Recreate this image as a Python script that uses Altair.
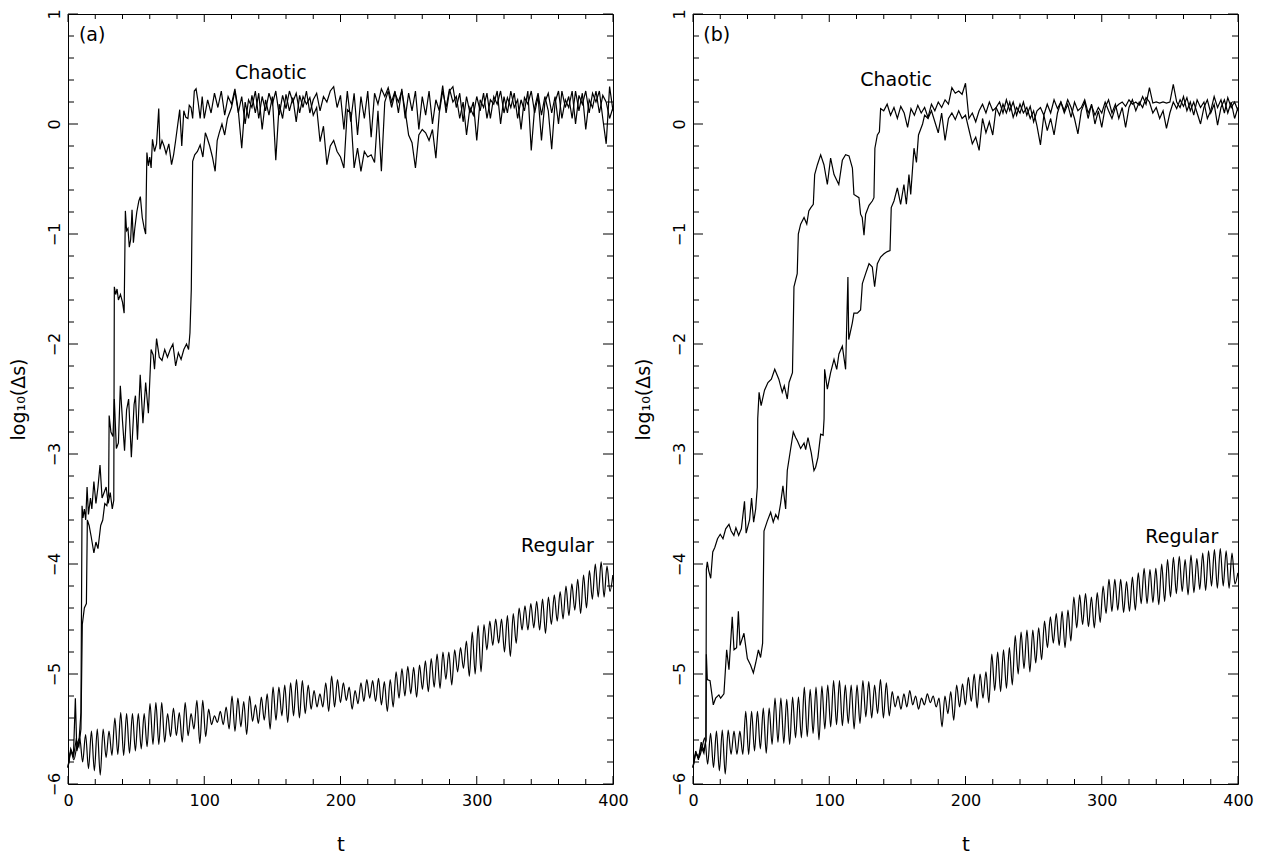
import altair as alt
import pandas as pd

FONT = "DejaVu Sans"
W, H = 545, 770

# ---------------- data ----------------
REG_STEP = 2.15     # spacing of the sampled extrema of the regular curves
BAND_STEP = 2.5     # spacing of the samples in the saturated chaotic band

reg_a = [-5.85, -5.70, -5.78, -5.66, -5.58, -5.80, -5.55, -5.86, -5.52, -5.88,
         -5.50, -5.92, -5.50, -5.76, -5.52, -5.74, -5.40, -5.73, -5.35, -5.74,
         -5.36, -5.72, -5.36, -5.70, -5.36, -5.68, -5.36, -5.66, -5.27, -5.64,
         -5.26, -5.64, -5.26, -5.62, -5.36, -5.57, -5.31, -5.56, -5.35, -5.62,
         -5.26, -5.56, -5.36, -5.50, -5.24, -5.63, -5.24, -5.57, -5.32, -5.46,
         -5.38, -5.44, -5.34, -5.46, -5.30, -5.50, -5.20, -5.52, -5.22, -5.48,
         -5.25, -5.55, -5.20, -5.43, -5.28, -5.45, -5.21, -5.42, -5.18, -5.50,
         -5.12, -5.42, -5.12, -5.38, -5.10, -5.44, -5.08, -5.38, -5.05, -5.40,
         -5.06, -5.36, -5.10, -5.32, -5.15, -5.30, -5.18, -5.30, -5.08, -5.34,
         -5.02, -5.30, -5.05, -5.26, -5.08, -5.24, -5.12, -5.32, -5.15, -5.27,
         -5.08, -5.25, -5.05, -5.22, -5.06, -5.25, -5.04, -5.28, -5.07, -5.34,
         -5.05, -5.30, -4.98, -5.22, -4.95, -5.20, -4.93, -5.18, -4.94, -5.21,
         -4.92, -5.14, -4.88, -5.16, -4.86, -5.12, -4.82, -5.13, -4.80, -5.05,
         -4.80, -5.10, -4.78, -4.98, -4.76, -4.95, -4.70, -5.02, -4.62, -5.00,
         -4.56, -4.98, -4.55, -4.78, -4.52, -4.74, -4.50, -4.72, -4.50, -4.80,
         -4.47, -4.84, -4.45, -4.72, -4.40, -4.60, -4.38, -4.60, -4.36, -4.58,
         -4.34, -4.60, -4.32, -4.63, -4.30, -4.55, -4.28, -4.52, -4.25, -4.50,
         -4.20, -4.47, -4.18, -4.42, -4.14, -4.45, -4.10, -4.40, -4.06, -4.32,
         -4.00, -4.30, -3.98, -4.30, -4.02, -4.25, -4.10]

reg_b = [-5.85, -5.72, -5.76, -5.68, -5.58, -5.82, -5.54, -5.85, -5.52, -5.88,
         -5.51, -5.91, -5.51, -5.73, -5.52, -5.73, -5.52, -5.73, -5.34, -5.73,
         -5.34, -5.70, -5.34, -5.68, -5.31, -5.72, -5.31, -5.64, -5.22, -5.62,
         -5.22, -5.63, -5.23, -5.64, -5.21, -5.58, -5.21, -5.58, -5.12, -5.57,
         -5.14, -5.54, -5.12, -5.60, -5.11, -5.50, -5.10, -5.48, -5.06, -5.46,
         -5.06, -5.47, -5.10, -5.45, -5.10, -5.50, -5.10, -5.45, -5.06, -5.39,
         -5.07, -5.40, -5.10, -5.36, -5.05, -5.40, -5.08, -5.38, -5.16, -5.30,
         -5.20, -5.32, -5.18, -5.30, -5.15, -5.28, -5.20, -5.32, -5.22, -5.28,
         -5.18, -5.26, -5.20, -5.30, -5.22, -5.48, -5.20, -5.36, -5.16, -5.42,
         -5.10, -5.30, -5.09, -5.28, -5.03, -5.25, -5.00, -5.31, -5.00, -5.22,
         -4.98, -5.26, -4.82, -5.15, -4.80, -5.16, -4.78, -5.13, -4.76, -5.10,
         -4.65, -5.00, -4.62, -4.95, -4.60, -4.98, -4.60, -4.90, -4.58, -4.87,
         -4.52, -4.76, -4.48, -4.72, -4.45, -4.74, -4.43, -4.76, -4.42, -4.70,
         -4.30, -4.58, -4.28, -4.55, -4.27, -4.57, -4.30, -4.58, -4.26, -4.53,
         -4.20, -4.45, -4.14, -4.43, -4.14, -4.42, -4.14, -4.44, -4.16, -4.43,
         -4.12, -4.42, -4.08, -4.36, -4.04, -4.36, -4.05, -4.35, -4.04, -4.37,
         -4.00, -4.34, -3.96, -4.30, -3.94, -4.27, -3.93, -4.25, -3.96, -4.28,
         -3.92, -4.26, -3.95, -4.23, -3.90, -4.24, -3.88, -4.20, -3.87, -4.22,
         -3.86, -4.20, -3.88, -4.22, -3.90, -4.18, -4.08]

# panel (a), chaotic orbit 1
a_c1_t = [0, 2, 4, 5.4, 6.5, 8, 9.5, 10.3, 11, 12, 13, 14, 15, 16.5, 17.5, 19, 20.5, 22, 23.5, 25,
          26.5, 28, 29.5, 31, 32.5, 33.6, 34, 35, 36, 37, 38.5, 40, 41.2, 42.1, 43, 44, 45, 46, 47, 48,
          49, 50.5, 52, 53.1, 54.5, 56, 57, 57.9, 59, 60, 61, 62, 63.5, 65, 66.6, 67.5, 69, 70.5, 72, 74,
          76, 77.5, 79, 82, 83.5, 85, 86.5, 88, 89, 90.3, 91.5, 92.7, 94, 95.5, 97, 98.5, 100]
a_c1_y = [-5.85, -5.68, -5.74, -5.22, -5.70, -5.62, -5.35, -3.47, -3.58, -3.50,
          -3.60, -3.30, -3.55, -3.40, -3.50, -3.25, -3.45, -3.30, -3.10, -3.40,
          -3.35, -3.30, -3.45, -3.35, -3.50, -3.42, -1.48, -1.55, -1.50, -1.60,
          -1.55, -1.62, -1.72, -0.79, -0.97, -0.95, -1.12, -1.05, -0.78, -1.08,
          -0.95, -0.80, -0.70, -0.66, -0.85, -0.95, -1.00, -0.26, -0.38, -0.30,
          -0.40, -0.14, -0.25, -0.18, 0.14, -0.23, -0.15, -0.20, -0.27, -0.18,
          -0.37, -0.28, -0.15, 0.13, -0.20, 0.12, 0.06, 0.05, 0.17, 0.15,
          0.05, 0.30, 0.32, 0.20, 0.05, 0.25, 0.05]
a_c1_band_start = 102.5
a_c1_band = [0.22, 0.10, 0.28, 0.15, 0.30, 0.08, 0.25, 0.18, 0.32, 0.12,
             -0.22, 0.20, 0.05, 0.26, 0.10, 0.28, -0.05, 0.22, 0.08, 0.25,
             -0.33, 0.18, 0.05, 0.27, 0.12, 0.24, 0.02, 0.26, 0.15, 0.30,
             0.10, 0.22, 0.28, 0.12, 0.25, 0.20, 0.30, 0.34, 0.15, 0.26,
             -0.05, 0.30, 0.02, 0.28, -0.10, 0.25, 0.05, 0.30, -0.12, 0.28,
             0.18, 0.32, 0.25, 0.33, 0.20, 0.30, 0.10, 0.32, 0.05, 0.28,
             0.12, 0.30, -0.05, 0.25, 0.08, 0.30, 0.00, 0.22, 0.12, 0.35,
             0.10, 0.30, 0.34, 0.15, 0.28, 0.02, 0.25, 0.10, 0.20, -0.15,
             0.22, 0.15, 0.28, 0.05, 0.25, 0.18, 0.30, 0.10, 0.24, 0.15,
             0.28, 0.05, 0.22, 0.12, 0.30, -0.24, 0.15, 0.28, 0.08, 0.25,
             0.12, -0.23, 0.20, 0.30, 0.05, 0.22, 0.15, 0.30, 0.00, 0.26,
             0.18, 0.30, 0.10, 0.28, 0.20, 0.30, 0.05, -0.18, 0.34, 0.12]

# panel (a), chaotic orbit 2
a_c2_t = [0, 2, 4, 6, 8, 9.5, 10.5, 12, 13.5, 14.2, 15.5, 17, 19, 20.5, 22, 24, 25.5, 27, 28.5, 29.8,
          30.2, 31.5, 33, 34, 35.5, 37, 38.4, 40, 41.5, 43, 44.5, 46.5, 48.5, 49.5, 51, 53, 55, 57, 59, 61,
          62.5, 63.5, 65, 67, 69, 71, 73, 75, 77, 79, 81, 83, 85, 87, 88.5, 89.5, 90.5, 91, 91.5, 93,
          95, 97, 99, 100.8, 102, 104, 106, 108, 109.5, 111, 113, 115, 117]
a_c2_y = [-5.85, -5.70, -5.75, -5.60, -5.66, -5.50, -4.55, -4.40, -4.36, -3.60,
          -3.65, -3.75, -3.90, -3.80, -3.86, -3.65, -3.60, -3.45, -3.47, -3.36,
          -2.65, -2.80, -2.84, -2.50, -2.95, -2.90, -2.38, -2.70, -2.97, -2.60,
          -2.50, -3.03, -2.55, -2.47, -2.87, -2.28, -2.72, -2.35, -2.63, -2.05,
          -2.10, -2.23, -1.95, -2.12, -2.15, -2.05, -2.12, -2.05, -2.00, -2.20,
          -2.08, -2.14, -2.05, -2.00, -2.05, -1.90, -1.50, -0.90, -0.34, -0.28,
          -0.25, -0.19, -0.30, -0.08, -0.12, -0.20, -0.30, -0.43, -0.15, -0.08,
          0.00, -0.10, 0.05]
a_c2_band_start = 120.0
a_c2_band = [0.15, 0.30, 0.10, 0.25, 0.00, 0.22, 0.15, 0.30, 0.05, 0.25,
             0.12, 0.28, 0.18, 0.30, 0.08, 0.26, 0.14, 0.30, 0.20, 0.28,
             0.10, 0.25, 0.18, 0.24, 0.08, 0.15, -0.16, -0.02, -0.37, -0.20,
             -0.15, -0.25, -0.30, -0.40, 0.13, 0.10, -0.40, -0.22, -0.43, -0.25,
             -0.30, -0.28, -0.35, 0.12, -0.43, 0.20, 0.30, 0.15, 0.28, 0.20,
             0.30, 0.12, -0.10, -0.17, -0.40, -0.10, -0.05, -0.08, -0.15, -0.05,
             -0.31, 0.10, 0.30, 0.15, 0.32, 0.20, 0.25, 0.05, 0.20, -0.10,
             0.15, 0.08, 0.25, 0.12, 0.28, 0.05, 0.22, 0.18, 0.30, 0.00,
             0.25, 0.10, 0.30, 0.15, 0.22, -0.05, 0.24, 0.18, 0.30, 0.10,
             0.25, -0.15, 0.20, 0.28, 0.10, 0.25, 0.00, 0.30, 0.15, 0.25,
             0.05, 0.30, 0.12, 0.28, -0.05, 0.22, 0.15, 0.30, 0.10, 0.26,
             0.20, 0.05, 0.15]

# panel (b), chaotic orbit 1
b_c1_t = [0, 2, 4, 6, 8, 9.5, 9.8, 10.5, 11.5, 13, 14.5, 16, 18, 20, 22, 24, 26.4, 28, 30, 31.5,
          33.5, 35.5, 37.8, 39, 41.5, 43, 44.5, 46, 47.2, 47.5, 48.5, 50, 52.5, 55, 57.5, 60, 63, 65.5, 67, 69.2,
          70.5, 73, 74.1, 76.5, 77.3, 79, 81.5, 83.5, 85, 86.5, 88.3, 89.3, 91.3, 93.7, 96.1, 98.6, 101, 103.5, 107, 109.6,
          112, 114.5, 117, 118.1, 121.8, 123, 124.2, 125.5, 126.7, 129.2, 131.6, 132.8, 133.5, 135.3, 136.8, 137.7]
b_c1_y = [-5.85, -5.70, -5.78, -5.62, -5.70, -5.60, -4.05, -3.98, -4.06, -4.13,
          -3.89, -3.85, -3.77, -3.73, -3.77, -3.68, -3.64, -3.70, -3.74, -3.67,
          -3.74, -3.68, -3.43, -3.72, -3.60, -3.40, -3.62, -3.50, -3.30, -2.68,
          -2.44, -2.56, -2.42, -2.35, -2.32, -2.23, -2.32, -2.44, -2.38, -2.50,
          -2.35, -2.26, -1.48, -1.36, -1.00, -0.91, -0.85, -0.91, -0.79, -0.76,
          -0.73, -0.46, -0.37, -0.28, -0.37, -0.55, -0.31, -0.46, -0.55, -0.33,
          -0.28, -0.29, -0.40, -0.64, -0.67, -0.82, -0.85, -1.01, -0.82, -0.74,
          -0.70, -0.67, -0.22, -0.10, -0.07, 0.14]
b_c1_band_start = 140.0
b_c1_band = [0.12, 0.18, 0.08, 0.15, 0.05, 0.16, 0.10, -0.03, 0.14, 0.08,
             0.17, 0.10, 0.15, 0.06, 0.18, 0.12, 0.20, 0.15, 0.22, 0.18,
             0.33, 0.28, 0.30, 0.27, 0.37, 0.05, 0.10, 0.02, 0.12, 0.18,
             0.10, 0.20, 0.12, 0.15, 0.08, 0.18, 0.10, 0.20, 0.06, 0.15,
             0.10, 0.20, 0.08, 0.16, 0.02, 0.12, 0.15, 0.08, 0.18, 0.10,
             0.22, 0.14, 0.20, 0.10, 0.18, 0.06, 0.20, 0.12, 0.15, 0.22,
             0.10, 0.17, 0.08, 0.15, 0.10, 0.20, 0.12, 0.05, 0.15, 0.18,
             0.20, 0.16, 0.22, 0.18, 0.20, 0.17, 0.25, 0.18, 0.33, 0.19,
             0.20, 0.19, 0.20, 0.19, 0.20, 0.36, 0.20, 0.15, 0.25, 0.12,
             0.20, 0.08, 0.22, 0.15, 0.20, 0.05, 0.12, 0.25, 0.15, 0.22,
             0.10, 0.24, 0.15, 0.20, 0.12]

# panel (b), chaotic orbit 2
b_c2_t = [0, 2, 4, 6, 8, 9.5, 9.8, 10.5, 12.5, 14.9, 16.6, 19, 20.3, 22.7, 24.7, 26.4, 28.8, 30.1, 32, 33.3,
          34.5, 37.4, 39.9, 42.3, 44.3, 46, 48, 49.6, 51.1, 52.1, 54.5, 57, 58.9, 60.7, 62.4, 64.3, 66, 68, 69.2, 71.7,
          73.6, 75.3, 76.6, 79, 81.5, 82.7, 84.4, 86.8, 88.8, 90, 91.7, 93.7, 95.5, 96.2, 96.6, 98.6, 101, 103.5, 105.5, 107.1,
          109.6, 112, 113.7, 114.3, 116.9, 118.1, 120.6, 123, 124.3, 126.7, 129.2, 131.6, 133.3, 135.3, 137.7, 140.2, 142.6, 144.6, 145.5, 147.5,
          150, 152.4, 154.8, 156.6, 158.5, 159.8, 162.2, 164, 165.5, 167, 168.5, 170]
b_c2_y = [-5.85, -5.72, -5.76, -5.66, -5.72, -5.60, -4.82, -5.05, -5.06, -5.28,
          -5.22, -5.19, -5.22, -5.18, -4.78, -4.96, -4.48, -4.78, -4.76, -4.43,
          -4.74, -4.63, -4.86, -4.92, -4.99, -4.90, -4.78, -4.85, -4.72, -3.70,
          -3.61, -3.53, -3.62, -3.55, -3.59, -3.45, -3.29, -3.50, -3.15, -2.95,
          -2.80, -2.85, -2.88, -2.95, -2.90, -2.96, -2.85, -2.99, -3.15, -3.12,
          -3.03, -2.82, -2.83, -2.68, -2.23, -2.41, -2.26, -2.14, -2.23, -2.09,
          -2.02, -2.23, -1.39, -1.96, -1.81, -1.72, -1.72, -1.69, -1.45, -1.36,
          -1.27, -1.30, -1.48, -1.27, -1.21, -1.18, -1.16, -1.15, -0.76, -0.70,
          -0.58, -0.73, -0.55, -0.73, -0.46, -0.64, -0.22, -0.35, -0.10, -0.05,
          0.00, 0.08]
b_c2_band_start = 172.5
b_c2_band = [0.05, 0.12, 0.02, -0.08, 0.10, -0.15, 0.05, 0.10, 0.04, 0.12,
             0.05, 0.08, -0.05, -0.18, -0.12, -0.24, 0.05, -0.08, 0.02, -0.10,
             0.15, 0.20, 0.10, 0.22, 0.12, 0.20, 0.08, 0.18, 0.10, 0.15,
             0.05, 0.12, -0.02, -0.19, 0.08, -0.06, 0.05, -0.10, 0.10, 0.20,
             0.12, 0.22, 0.15, 0.05, -0.09, 0.12, 0.20, 0.05, 0.18, 0.00,
             0.12, -0.03, 0.15, 0.22, 0.10, 0.18, 0.05, 0.15, -0.03, 0.15,
             0.22, 0.12, 0.20, 0.15, 0.24, 0.20, 0.10, 0.15, 0.05, 0.12,
             -0.04, 0.10, 0.20, 0.14, 0.22, 0.16, 0.24, 0.12, 0.20, 0.10,
             0.00, 0.15, 0.22, 0.10, 0.18, -0.01, 0.15, 0.22, 0.10, 0.20,
             0.05, 0.15]

# annotations: (text, t, y)
notes_a = [("(a)", 8.0, 0.81), ("Chaotic", 122.5, 0.46), ("Regular", 332.5, -3.84)]
notes_b = [("(b)", 7.6, 0.81), ("Chaotic", 122.8, 0.40), ("Regular", 332.0, -3.75)]

# axis ticks
x_major = [0, 100, 200, 300, 400]
x_minor = [v for v in range(0, 401, 20) if v % 100]
y_major = [-6, -5, -4, -3, -2, -1, 0, 1]
y_minor = [round(-6 + 0.2 * i, 1) for i in range(36) if i % 5]


# ---------------- helpers ----------------
def chaotic_frame(parts):
    rows = []
    for name, ts, ys, bstart, band in parts:
        for t, y in zip(ts, ys):
            rows.append({"curve": name, "t": t, "y": y})
        for i, y in enumerate(band):
            rows.append({"curve": name, "t": bstart + BAND_STEP * i, "y": y})
    return pd.DataFrame(rows)


def regular_frame(vals):
    return pd.DataFrame({"t": [REG_STEP * i for i in range(len(vals))], "y": vals})


xs = alt.Scale(domain=[0, 400], nice=False, zero=False)
ys = alt.Scale(domain=[-6, 1], nice=False, zero=False)

xaxis = alt.Axis(values=x_major, title="t", format="d", labelFont=FONT, labelFontSize=16,
                 labelPadding=8, labelColor="black", labelFlush=False, titleFont=FONT, titleFontSize=20,
                 titleFontWeight="normal", titleColor="black", titlePadding=26,
                 ticks=False, tickSize=0, domain=False, grid=False)
yaxis = alt.Axis(values=y_major, title="log₁₀(Δs)", format="d", labelFont=FONT, labelFontSize=16,
                 labelAngle=270, labelAlign="center", labelBaseline="alphabetic", labelFlush=False,
                 labelPadding=9, labelColor="black", titleFont=FONT, titleFontSize=19,
                 titleFontWeight="normal", titleColor="black", titlePadding=18,
                 ticks=False, tickSize=0, domain=False, grid=False)

X = lambda f: alt.X(f, scale=xs, axis=xaxis)
Y = lambda f: alt.Y(f, scale=ys, axis=yaxis)


def panel(chaotic_df, reg_vals, notes):
    reg_df = regular_frame(reg_vals)
    chaotic = alt.Chart(chaotic_df).mark_line(color="black", strokeWidth=1.2).encode(
        x=X("t:Q"), y=Y("y:Q"), detail="curve:N")
    regular = alt.Chart(reg_df).mark_line(color="black", strokeWidth=1.2, interpolate="monotone").encode(
        x=X("t:Q"), y=Y("y:Q"))

    ymaj = pd.DataFrame({"v": y_major})
    ymin = pd.DataFrame({"v": y_minor})
    xmaj = pd.DataFrame({"v": x_major})
    xmin = pd.DataFrame({"v": x_minor})
    tick_layers = []
    for df, L in ((ymaj, 10), (ymin, 6)):
        tick_layers.append(alt.Chart(df).mark_rule(color="black", strokeWidth=1).encode(
            y=Y("v:Q"), x=alt.value(0), x2=alt.value(L)))
        tick_layers.append(alt.Chart(df).mark_rule(color="black", strokeWidth=1).encode(
            y=Y("v:Q"), x=alt.value(W - L), x2=alt.value(W)))
    for df, L in ((xmaj, 8), (xmin, 5)):
        tick_layers.append(alt.Chart(df).mark_rule(color="black", strokeWidth=1).encode(
            x=X("v:Q"), y=alt.value(H - L), y2=alt.value(H)))
        tick_layers.append(alt.Chart(df).mark_rule(color="black", strokeWidth=1).encode(
            x=X("v:Q"), y=alt.value(0), y2=alt.value(L)))

    ndf = pd.DataFrame(notes, columns=["label", "t", "y"])
    text = alt.Chart(ndf).mark_text(align="left", baseline="middle", font=FONT, fontSize=19,
                                    color="black").encode(x=X("t:Q"), y=Y("y:Q"), text="label:N")
    return alt.layer(chaotic, regular, text, *tick_layers).properties(width=W, height=H)


df_a = chaotic_frame([("c1", a_c1_t, a_c1_y, a_c1_band_start, a_c1_band),
                      ("c2", a_c2_t, a_c2_y, a_c2_band_start, a_c2_band)])
df_b = chaotic_frame([("c1", b_c1_t, b_c1_y, b_c1_band_start, b_c1_band),
                      ("c2", b_c2_t, b_c2_y, b_c2_band_start, b_c2_band)])

chart = alt.hconcat(panel(df_a, reg_a, notes_a), panel(df_b, reg_b, notes_b),
                    spacing=80, bounds="flush").properties(
    padding={"left": 0, "top": 0, "right": 5, "bottom": 5}
).configure_view(stroke="black", strokeWidth=1)

chart.save("out.html", embed_options={"renderer": "svg", "actions": False})
